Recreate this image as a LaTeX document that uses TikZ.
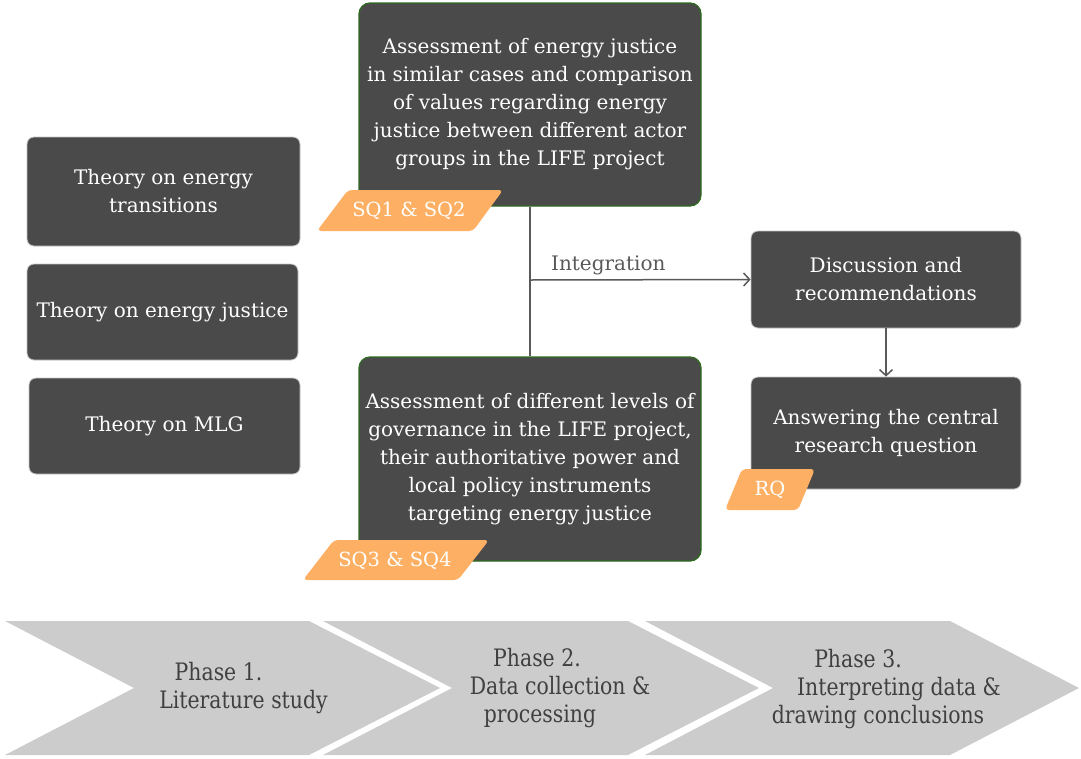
\documentclass[tikz,border=0pt]{standalone}
\usepackage{fontspec}
\setmainfont{DejaVu Serif}
\newfontfamily\phasefont[FakeStretch=0.85]{DejaVu Serif}
\usepackage{xcolor}
\usepackage{tikz}
\usetikzlibrary{arrows.meta}

\definecolor{boxgray}{HTML}{4A4A4A}
\definecolor{boxgreen}{HTML}{2F6A21}
\definecolor{tagorange}{HTML}{FDB063}
\definecolor{chevgray}{HTML}{CCCCCC}
\definecolor{inkgray}{HTML}{595959}
\definecolor{phaseink}{HTML}{404040}

\tikzset{
	darkbox/.style={fill=boxgray,draw=gray!45,line width=0.8pt,rounded corners=7pt,
		text=white,align=center,inner sep=0pt,font=\fontsize{20}{28}\selectfont},
	stagebox/.style={darkbox,draw=boxgreen,line width=1.3pt,rounded corners=11pt},
	tagshape/.style={fill=tagorange,rounded corners=4pt},
	tagtext/.style={text=white,inner sep=0pt,font=\fontsize{19.5}{28}\selectfont},
	link/.style={draw=inkgray,line width=1.5pt},
	chevron/.style={fill=chevgray},
	phasetext/.style={text=phaseink,align=center,inner sep=0pt,font=\phasefont\fontsize{24}{28}\selectfont}
}

\begin{document}
\begin{tikzpicture}[x=1pt,y=-1pt]
	\useasboundingbox (0,0) rectangle (1081,758);
	% theory boxes
	\node[darkbox,minimum width=273pt,minimum height=109pt] (transitions) at (163.5,191.5) {Theory on energy\\transitions};
	\node[darkbox,minimum width=271pt,minimum height=96pt] (justice) at (162.5,312) {Theory on energy justice};
	\node[darkbox,minimum width=271pt,minimum height=96pt] (mlg) at (164.5,426) {Theory on MLG};
	% sub questions
	\node[stagebox,minimum width=342pt,minimum height=203pt] (values) at (530,104.5) {Assessment of energy justice\\in similar cases and comparison\\of values regarding energy\\justice between different actor\\groups in the LIFE project};
	\node[stagebox,minimum width=342pt,minimum height=204pt] (governance) at (530,459) {Assessment of different levels of\\governance in the LIFE project,\\their authoritative power and\\local policy instruments\\targeting energy justice};
	% right column
	\node[darkbox,minimum width=270pt,minimum height=97pt] (discussion) at (886,279.5) {Discussion and\\recommendations};
	\node[darkbox,minimum width=270pt,minimum height=112pt] (answer) at (886,433) {Answering the central\\research question};
	% tags
	\path[tagshape] (317,231) -- (348,190) -- (503,190) -- (473,231) -- cycle;
	\node[tagtext] (sqa) at (409,211) {SQ1 \& SQ2};
	\path[tagshape] (303,580) -- (334,540) -- (489,540) -- (458,580) -- cycle;
	\node[tagtext] (sqb) at (395,561) {SQ3 \& SQ4};
	\path[tagshape] (725,510) -- (742,469) -- (815,469) -- (798,510) -- cycle;
	\node[tagtext] (rq) at (770,490) {RQ};
	% connectors
	\draw[link] (values.south) -- (governance.north);
	\coordinate (junction) at (530,280);
	\draw[link,-{Straight Barb[length=6pt,width=13pt]}] (junction) -- (discussion.west)
		node[pos=0.355,above=1pt,text=inkgray,font=\fontsize{20}{28}\selectfont] (integration) {Integration};
	\draw[link,-{Straight Barb[length=6pt,width=13pt]}] (discussion.south) -- (answer.north);
	% phases
	\path[chevron] (5,621) -- (309,621) -- (440,688) -- (309,755) -- (5,755) -- (134,688) -- cycle;
	\path[chevron] (323,621) -- (628,621) -- (759,688) -- (628,755) -- (323,755) -- (452,688) -- cycle;
	\path[chevron] (645,621) -- (950,621) -- (1079,688) -- (950,755) -- (645,755) -- (773,688) -- cycle;
	\node[phasetext] (phase1) at (231,688) {Phase 1.\hspace*{25pt}\\\hspace*{25pt}Literature study};
	\node[phasetext] (phase2) at (546,688) {Phase 2.\hspace*{18pt}\\\hspace*{28pt}Data collection \&\\processing\hspace*{12pt}};
	\node[phasetext] (phase3) at (878,689) {Phase 3.\hspace*{40pt}\\\hspace*{42pt}Interpreting data \&\\drawing conclusions};
\end{tikzpicture}
\end{document}
